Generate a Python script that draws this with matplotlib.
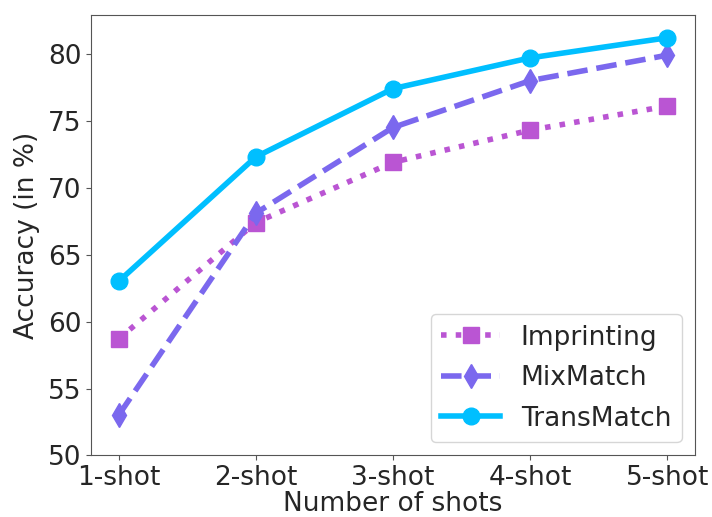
import matplotlib
matplotlib.use("Agg")
import matplotlib.pyplot as plt

shots = ["1-shot", "2-shot", "3-shot", "4-shot", "5-shot"]
imprinting = [58.7, 67.4, 71.9, 74.3, 76.1]
mixmatch = [53.0, 68.1, 74.5, 78.0, 79.9]
transmatch = [63.0, 72.3, 77.4, 79.7, 81.2]

txt = '#262626'
plt.rcParams['font.size'] = 19
plt.rcParams['text.color'] = txt
plt.rcParams['axes.labelcolor'] = txt
plt.rcParams['xtick.color'] = '#555555'
plt.rcParams['ytick.color'] = '#555555'
plt.rcParams['xtick.labelcolor'] = txt
plt.rcParams['ytick.labelcolor'] = txt

fig = plt.figure(figsize=(7.12, 5.17), dpi=100)
ax = fig.add_axes([0.128, 0.119, 0.848, 0.852])
x = range(len(shots))
ax.plot(x, imprinting, ':', color='#BA55D3', lw=4, marker='s', ms=12, label='Imprinting')
ax.plot(x, mixmatch, '--', color='#7B68EE', lw=4, marker='d', ms=12, label='MixMatch')
ax.plot(x, transmatch, '-', color='#00BFFF', lw=4, marker='o', ms=12, label='TransMatch')

ax.set_xticks(list(x))
ax.set_xticklabels(shots)
ax.set_ylim(50, 82.9)
ax.set_xlabel("Number of shots", labelpad=0)
ax.set_ylabel("Accuracy (in %)", labelpad=6)
for s in ax.spines.values():
    s.set_color('#555555')
ax.legend(loc='lower right', fontsize=19, handlelength=2.2, handletextpad=0.8,
          labelspacing=0.55)
fig.savefig('out.png', dpi=100)
